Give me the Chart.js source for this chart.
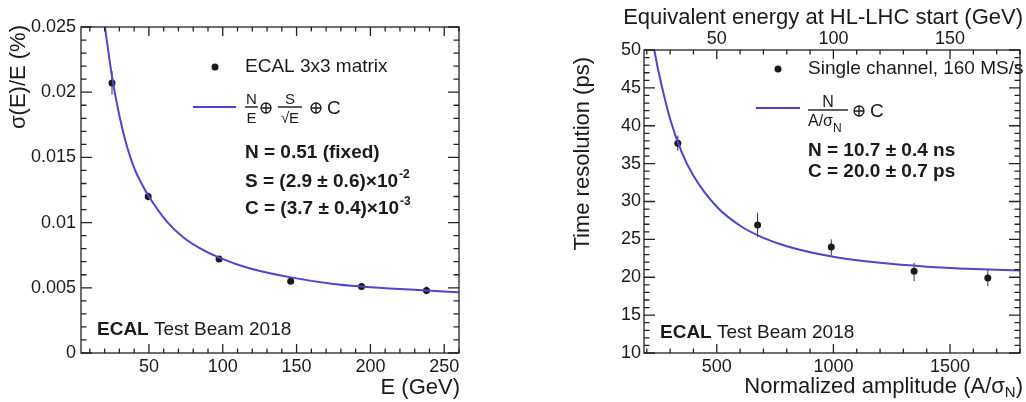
<!DOCTYPE html>
<html>
<head>
<meta charset="utf-8">
<script src="https://cdn.jsdelivr.net/npm/chart.js@4.4.0/dist/chart.umd.min.js"></script>
<style>
  body { margin: 0; background: #fff; }
  #wrap { position: relative; width: 1026px; height: 402px; overflow: hidden; }
  #left { position: absolute; left: 0; top: 0; }
  #right { position: absolute; left: 520px; top: 0; }
</style>
</head>
<body>
<div id="wrap">
  <canvas id="left" width="510" height="402"></canvas>
  <canvas id="right" width="506" height="402"></canvas>
</div>
<script>
// ---- left panel: energy resolution ----
const energies = [25, 49.5, 97.5, 146, 194, 238];
const resolution = [0.0207, 0.0120, 0.0072, 0.0055, 0.0051, 0.0048];
const resolutionErr = [0.0009, 0.0003, 0.0002, 0.0002, 0.0002, 0.0003];
const fitEnergies = [20.2, 25, 30, 35, 40, 45, 50, 62, 73, 85, 98, 118, 146, 175, 194, 220, 238, 260];
const fitResolution = [0.025, 0.0212, 0.0182, 0.0159, 0.0142, 0.0130, 0.0120, 0.0101, 0.0089, 0.0080, 0.0073,
                       0.0065, 0.0058, 0.0053, 0.0051, 0.0049, 0.0048, 0.00465];
const leftXTicks = [50, 100, 150, 200, 250];
const leftYTicks = [0, 0.005, 0.01, 0.015, 0.02, 0.025];

// ---- right panel: time resolution ----
const amplitudes = [333, 675, 991, 1346, 1662];
const timeRes = [37.7, 26.9, 24.0, 20.8, 19.9];
const timeErrLo = [1.0, 1.6, 1.1, 1.3, 1.1];
const timeErrHi = [1.0, 1.6, 1.0, 1.1, 1.1];
const fitAmplitudes = [232, 250, 300, 350, 400, 500, 600, 700, 800, 1000, 1200, 1400, 1600, 1800];
const fitTimeRes = [50, 47.2, 40.9, 36.5, 33.4, 29.3, 26.8, 25.2, 24.1, 22.7, 21.9, 21.4, 21.1, 20.9];
const rightXTicks = [500, 1000, 1500];
const rightYTicks = [10, 15, 20, 25, 30, 35, 40, 45, 50];
const topTicks = [50, 100, 150];

const FONT = '"Liberation Sans", Arial, Helvetica, sans-serif';
const BLUE = '#4d45cc';
const INK = '#1a1a1a';

const pts = (xs, ys) => xs.map((x, i) => ({x: x, y: ys[i]}));

// ROOT-like frame with inner ticks, plus error bars
const rootFrame = {
  id: 'rootFrame',
  beforeDatasetsDraw(chart) {
    const {ctx, scales} = chart;
    ctx.save();
    ctx.strokeStyle = '#333';
    ctx.lineWidth = 1;
    chart.data.datasets.forEach(ds => {
      if (!ds.errLo) return;
      ds.data.forEach((p, i) => {
        const px = scales.x.getPixelForValue(p.x);
        ctx.beginPath();
        ctx.moveTo(px, scales.y.getPixelForValue(p.y - ds.errLo[i]));
        ctx.lineTo(px, scales.y.getPixelForValue(p.y + ds.errHi[i]));
        ctx.stroke();
      });
    });
    ctx.restore();
  },
  afterDatasetsDraw(chart, args, o) {
    const {ctx, chartArea: a, scales} = chart;
    ctx.save();
    ctx.strokeStyle = '#222';
    ctx.lineWidth = 1.3;
    const loop = (scale, minor, major, fn) => {
      for (let i = Math.ceil(scale.min / minor - 1e-9); i * minor <= scale.max + 1e-9; i++) {
        const v = i * minor;
        const isMajor = Math.abs(v / major - Math.round(v / major)) < 1e-6;
        fn(scale.getPixelForValue(v), isMajor);
      }
    };
    ctx.beginPath();
    loop(scales.x, o.xMinor, o.xMajor, (p, M) => {
      const l = M ? o.xLen : o.xLen / 2;
      ctx.moveTo(p, a.bottom); ctx.lineTo(p, a.bottom - l);
      if (!scales.x2) { ctx.moveTo(p, a.top); ctx.lineTo(p, a.top + l); }
    });
    if (scales.x2) {
      loop(scales.x2, o.tMinor, o.tMajor, (p, M) => {
        const l = M ? o.xLen : o.xLen / 2;
        ctx.moveTo(p, a.top); ctx.lineTo(p, a.top + l);
      });
    }
    loop(scales.y, o.yMinor, o.yMajor, (p, M) => {
      const l = M ? o.yLen : o.yLen / 2;
      ctx.moveTo(a.left, p); ctx.lineTo(a.left + l, p);
      ctx.moveTo(a.right, p); ctx.lineTo(a.right - l, p);
    });
    ctx.stroke();
    ctx.strokeRect(a.left, a.top, a.right - a.left, a.bottom - a.top);
    ctx.restore();
  }
};

function txt(ctx, s, x, y, size, opts) {
  opts = opts || {};
  ctx.font = (opts.bold ? 'bold ' : '') + size + 'px ' + (opts.family || FONT);
  ctx.textAlign = opts.align || 'left';
  ctx.textBaseline = opts.base || 'middle';
  ctx.fillStyle = INK;
  ctx.fillText(s, x, y);
  return ctx.measureText(s).width;
}

function vtitle(ctx, s, cx, topY, size) {
  ctx.save();
  ctx.translate(cx, topY);
  ctx.rotate(-Math.PI / 2);
  txt(ctx, s, 0, 0, size, {align: 'right'});
  ctx.restore();
}

function dot(ctx, x, y) {
  ctx.fillStyle = INK;
  ctx.beginPath(); ctx.arc(x, y, 3.5, 0, Math.PI * 2); ctx.fill();
}

function legLine(ctx, x1, x2, y) {
  ctx.save();
  ctx.strokeStyle = BLUE; ctx.lineWidth = 2;
  ctx.beginPath(); ctx.moveTo(x1, y); ctx.lineTo(x2, y); ctx.stroke();
  ctx.restore();
}

function bar(ctx, x1, x2, y) {
  ctx.fillStyle = INK;
  ctx.fillRect(x1, y - 0.7, x2 - x1, 1.4);
}

// circled plus, drawn as a ring with a cross
function oplus(ctx, cx, cy, r) {
  ctx.save();
  ctx.strokeStyle = INK; ctx.lineWidth = 1.3;
  ctx.beginPath(); ctx.arc(cx, cy, r, 0, Math.PI * 2);
  ctx.moveTo(cx - r, cy); ctx.lineTo(cx + r, cy);
  ctx.moveTo(cx, cy - r); ctx.lineTo(cx, cy + r);
  ctx.stroke();
  ctx.restore();
}

function scaleOpts(ticks, min, max, pad, fmt) {
  return {
    type: 'linear', min: min, max: max,
    grid: {display: false, drawTicks: false},
    border: {display: false},
    afterBuildTicks: s => { s.ticks = ticks.map(v => ({value: v})); },
    ticks: {
      autoSkip: false, maxRotation: 0, padding: pad, color: INK,
      font: {family: FONT, size: 18},
      callback: fmt || (v => String(v))
    }
  };
}

const leftText = {
  id: 'leftText',
  afterDraw(chart) {
    const ctx = chart.ctx;
    vtitle(ctx, 'σ(E)/E (%)', 19, 25, 22);
    txt(ctx, 'E (GeV)', 460, 388, 22, {align: 'right'});

    dot(ctx, 215, 67);
    txt(ctx, 'ECAL 3x3 matrix', 245, 67, 19);

    legLine(ctx, 193, 236, 107);
    txt(ctx, 'N', 251.5, 104, 15, {align: 'center', base: 'alphabetic'});
    bar(ctx, 245, 258, 107);
    txt(ctx, 'E', 251.5, 123, 15, {align: 'center', base: 'alphabetic'});
    oplus(ctx, 266, 108, 5);
    txt(ctx, 'S', 290, 104, 15, {align: 'center', base: 'alphabetic'});
    bar(ctx, 278, 302, 107);
    txt(ctx, '√E', 290, 123, 15, {align: 'center', base: 'alphabetic'});
    oplus(ctx, 316, 108, 5);
    txt(ctx, 'C', 327, 109, 19);

    txt(ctx, 'N = 0.51 (fixed)', 245, 153, 19, {bold: true});
    let w = txt(ctx, 'S = (2.9 ± 0.6)×10', 245, 182, 19, {bold: true});
    txt(ctx, '-2', 245 + w + 1, 175, 12, {bold: true});
    w = txt(ctx, 'C = (3.7 ± 0.4)×10', 245, 209, 19, {bold: true});
    txt(ctx, '-3', 245 + w + 1, 202, 12, {bold: true});

    w = txt(ctx, 'ECAL', 97, 330, 19, {bold: true});
    txt(ctx, ' Test Beam 2018', 97 + w, 330, 19);
  }
};

const rightText = {
  id: 'rightText',
  afterDraw(chart) {
    const ctx = chart.ctx;
    txt(ctx, 'Equivalent energy at HL-LHC start (GeV)', 503, 18, 22, {align: 'right'});
    vtitle(ctx, 'Time resolution (ps)', 63, 57, 22);

    // bottom title with subscript, right aligned at frame edge
    ctx.font = '22px ' + FONT;
    const wClose = ctx.measureText(')').width;
    ctx.font = '15px ' + FONT;
    const wSub = ctx.measureText('N').width;
    const xr = 503 - wClose;
    txt(ctx, ')', 503, 387, 22, {align: 'right'});
    txt(ctx, 'N', xr - wSub, 393, 15);
    txt(ctx, 'Normalized amplitude (A/σ', xr - wSub, 387, 22, {align: 'right'});

    dot(ctx, 258, 69);
    txt(ctx, 'Single channel, 160 MS/s', 288, 69, 19);

    legLine(ctx, 236, 280, 108);
    txt(ctx, 'N', 308, 107, 16, {align: 'center', base: 'alphabetic'});
    bar(ctx, 288, 328, 110);
    const wa = txt(ctx, 'A/σ', 288, 126, 16, {base: 'alphabetic'});
    txt(ctx, 'N', 288 + wa, 132, 12, {base: 'alphabetic'});
    oplus(ctx, 339, 111, 5);
    txt(ctx, 'C', 350, 112, 19);

    txt(ctx, 'N = 10.7 ± 0.4 ns', 288, 151, 19, {bold: true});
    txt(ctx, 'C = 20.0 ± 0.7 ps', 288, 172, 19, {bold: true});

    const w = txt(ctx, 'ECAL', 140, 333, 19, {bold: true});
    txt(ctx, ' Test Beam 2018', 140 + w, 333, 19);
  }
};

const common = {
  responsive: false,
  animation: false,
  devicePixelRatio: 1,
  plugins: {legend: {display: false}, tooltip: {enabled: false}}
};

new Chart(document.getElementById('left'), {
  type: 'scatter',
  data: {
    datasets: [
      {
        data: pts(fitEnergies, fitResolution), showLine: true, pointRadius: 0,
        borderColor: BLUE, borderWidth: 2, cubicInterpolationMode: 'monotone'
      },
      {
        data: pts(energies, resolution), pointRadius: 3.5, pointBackgroundColor: INK,
        pointBorderWidth: 0, errLo: resolutionErr, errHi: resolutionErr
      }
    ]
  },
  options: Object.assign({}, common, {
    layout: {padding: {left: 0, top: 27, right: 510 - 459, bottom: 0}},
    scales: {
      x: Object.assign(scaleOpts(leftXTicks, 4, 260, 3), {
        position: 'bottom', afterFit: s => { s.height = 402 - 353; }
      }),
      y: Object.assign(scaleOpts(leftYTicks, 0, 0.025, 5), {
        position: 'left', afterFit: s => { s.width = 81; }
      })
    },
    plugins: Object.assign({}, common.plugins, {
      rootFrame: {xMajor: 50, xMinor: 10, xLen: 9, yMajor: 0.005, yMinor: 0.001, yLen: 11}
    })
  }),
  plugins: [rootFrame, leftText]
});

new Chart(document.getElementById('right'), {
  type: 'scatter',
  data: {
    datasets: [
      {
        data: pts(fitAmplitudes, fitTimeRes), showLine: true, pointRadius: 0,
        borderColor: BLUE, borderWidth: 2, cubicInterpolationMode: 'monotone'
      },
      {
        data: pts(amplitudes, timeRes), pointRadius: 3.5, pointBackgroundColor: INK,
        pointBorderWidth: 0, errLo: timeErrLo, errHi: timeErrHi
      }
    ]
  },
  options: Object.assign({}, common, {
    layout: {padding: {left: 0, top: 0, right: 506 - 500, bottom: 0}},
    scales: {
      x: Object.assign(scaleOpts(rightXTicks, 188, 1800, 3), {
        position: 'bottom', afterFit: s => { s.height = 402 - 353; }
      }),
      x2: Object.assign(scaleOpts(topTicks, 18.8, 180, 0), {
        position: 'top', afterFit: s => { s.height = 50; }
      }),
      y: Object.assign(scaleOpts(rightYTicks, 10, 50, 3), {
        position: 'left', afterFit: s => { s.width = 124; }
      })
    },
    plugins: Object.assign({}, common.plugins, {
      rootFrame: {xMajor: 500, xMinor: 100, xLen: 9, tMajor: 50, tMinor: 10,
                  yMajor: 5, yMinor: 1, yLen: 11}
    })
  }),
  plugins: [rootFrame, rightText]
});
</script>
</body>
</html>
